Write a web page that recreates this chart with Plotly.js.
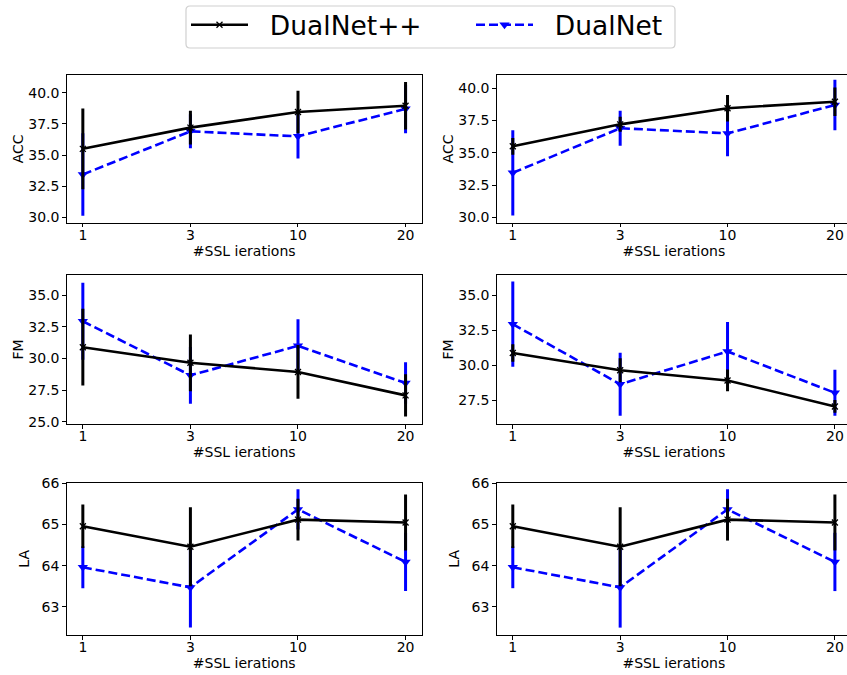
<!DOCTYPE html>
<html><head><meta charset="utf-8">
<script src="https://cdn.plot.ly/plotly-3.0.1.min.js"></script>
<style>html,body{margin:0;padding:0;overflow:hidden;background:#fff}#chart{width:851px;height:675px}</style>
</head><body><div id="chart"></div>
<script>
const iterations = ['1', '3', '10', '20'];
const seriesNames = ['DualNet++', 'DualNet'];

const accPlusMean = [35.5, 37.2, 38.45, 38.95];
const accPlusErrLeft = [3.23, 1.35, 1.7, 1.9];
const accPlusErrRight = [0.65, 0.58, 1.03, 1.1];
const accMean = [33.45, 36.9, 36.5, 38.7];
const accErr = [3.3, 1.36, 1.77, 1.95];

const fmPlusMean = [30.88, 29.65, 28.93, 27.08];
const fmPlusErrLeft = [3.03, 2.24, 2.12, 1.66];
const fmPlusErrRight = [0.62, 0.85, 0.77, 0.45];
const fmMean = [32.93, 28.66, 30.99, 28.05];
const fmErr = [3.03, 2.24, 2.1, 1.64];

const laPlusMean = [64.96, 64.46, 65.12, 65.05];
const laPlusErr = [0.53, 0.96, 0.51, 0.68];
const laMean = [63.96, 63.47, 65.37, 64.09];
const laErr = [0.51, 0.98, 0.49, 0.71];

const panels = [
  {metric: 'ACC', plus: accPlusMean, plusErr: accPlusErrLeft, base: accMean, baseErr: accErr, range: [29.58, 41.41], dtick: 2.5, fmt: '.1f'},
  {metric: 'ACC', plus: accPlusMean, plusErr: accPlusErrRight, base: accMean, baseErr: accErr, range: [29.58, 41.02], dtick: 2.5, fmt: '.1f'},
  {metric: 'FM', plus: fmPlusMean, plusErr: fmPlusErrLeft, base: fmMean, baseErr: fmErr, range: [24.82, 36.58], dtick: 2.5, fmt: '.1f'},
  {metric: 'FM', plus: fmPlusMean, plusErr: fmPlusErrRight, base: fmMean, baseErr: fmErr, range: [25.83, 36.43], dtick: 2.5, fmt: '.1f'},
  {metric: 'LA', plus: laPlusMean, plusErr: laPlusErr, base: laMean, baseErr: laErr, range: [62.31, 66.02], dtick: 1, fmt: 'd'},
  {metric: 'LA', plus: laPlusMean, plusErr: laPlusErr, base: laMean, baseErr: laErr, range: [62.31, 66.02], dtick: 1, fmt: 'd'}
];

const W = 851, H = 675;
const colDom = [[66.7 / W, 421.7 / W], [496.7 / W, 1.0]];
const rowPx = [[75, 222.8], [275, 424], [482.7, 635]];

const font = 'DejaVu Sans, sans-serif';
const traces = [];

// legend frame (rounded, light grey like matplotlib)
const bx0 = 186 / W, bx1 = 675 / W, by0 = 1 - 48 / H, by1 = 1 - 6 / H;
const rx = 4 / W, ry = 4 / H;
const framePath = `M ${bx0 + rx} ${by1} L ${bx1 - rx} ${by1} Q ${bx1} ${by1} ${bx1} ${by1 - ry} ` +
  `L ${bx1} ${by0 + ry} Q ${bx1} ${by0} ${bx1 - rx} ${by0} L ${bx0 + rx} ${by0} Q ${bx0} ${by0} ${bx0} ${by0 + ry} ` +
  `L ${bx0} ${by1 - ry} Q ${bx0} ${by1} ${bx0 + rx} ${by1} Z`;

const layout = {
  width: W, height: H,
  margin: {l: 0, r: 0, t: 0, b: 0},
  paper_bgcolor: '#fff', plot_bgcolor: '#fff',
  font: {family: font, size: 14, color: '#000'},
  showlegend: true,
  legend: {
    orientation: 'h', x: 186 / W, xanchor: 'left', y: 1 - 1 / H, yanchor: 'top',
    borderwidth: 0, bgcolor: 'rgba(0,0,0,0)',
    font: {family: font, size: 26.5, color: '#000'},
    itemwidth: 57,
    entrywidth: 213, entrywidthmode: 'pixels'
  },
  shapes: [{type: 'path', xref: 'paper', yref: 'paper', path: framePath,
            line: {color: '#d0d0d0', width: 1.2}, fillcolor: 'rgba(255,255,255,0.8)', layer: 'below'}]
};

panels.forEach((p, i) => {
  const n = i + 1;
  const xa = 'x' + (n === 1 ? '' : n), ya = 'y' + (n === 1 ? '' : n);
  const row = Math.floor(i / 2), col = i % 2;
  traces.push({
    x: iterations, y: p.base, xaxis: xa, yaxis: ya, type: 'scatter', mode: 'lines+markers',
    name: '\u00a0\u00a0' + seriesNames[1], legendrank: 2, showlegend: i === 0,
    line: {color: '#0000ff', width: 2.6, dash: '9px,4px'},
    marker: {symbol: 'triangle-down', size: 9, color: '#0000ff'},
    error_y: {type: 'data', array: p.baseErr, visible: true, thickness: 3, width: 0, color: '#0000ff'}
  });
  traces.push({
    x: iterations, y: p.plus, xaxis: xa, yaxis: ya, type: 'scatter', mode: 'lines+markers',
    name: '\u00a0\u00a0' + seriesNames[0], legendrank: 1, showlegend: i === 0,
    line: {color: '#000000', width: 2.6},
    marker: {symbol: 'x-thin', size: 6, color: '#000', line: {color: '#000', width: 1.3}},
    error_y: {type: 'data', array: p.plusErr, visible: true, thickness: 3, width: 0, color: '#000000'}
  });
  const axCommon = {
    showline: true, linecolor: '#000', linewidth: 1, mirror: true,
    ticks: 'outside', ticklen: 3.5, tickwidth: 1, tickcolor: '#000',
    showgrid: false, zeroline: false,
    tickfont: {family: font, size: 14, color: '#000'}
  };
  const key = n === 1 ? '' : n;
  layout['xaxis' + key] = Object.assign({}, axCommon, {
    type: 'category', domain: colDom[col], anchor: ya, range: [-0.15, 3.15], automargin: true,
    ticklabelstandoff: -4,
    title: {text: '#SSL ierations', font: {family: font, size: 14, color: '#000'}, standoff: 1}
  });
  layout['yaxis' + key] = Object.assign({}, axCommon, {
    domain: [1 - rowPx[row][1] / H, 1 - rowPx[row][0] / H], anchor: xa, automargin: false,
    range: p.range, dtick: p.dtick, tick0: 0, tickformat: p.fmt,
    title: {text: p.metric, font: {family: font, size: 14, color: '#000'}}
  });
});

Plotly.newPlot('chart', traces, layout, {staticPlot: true, displayModeBar: false});
</script></body></html>
